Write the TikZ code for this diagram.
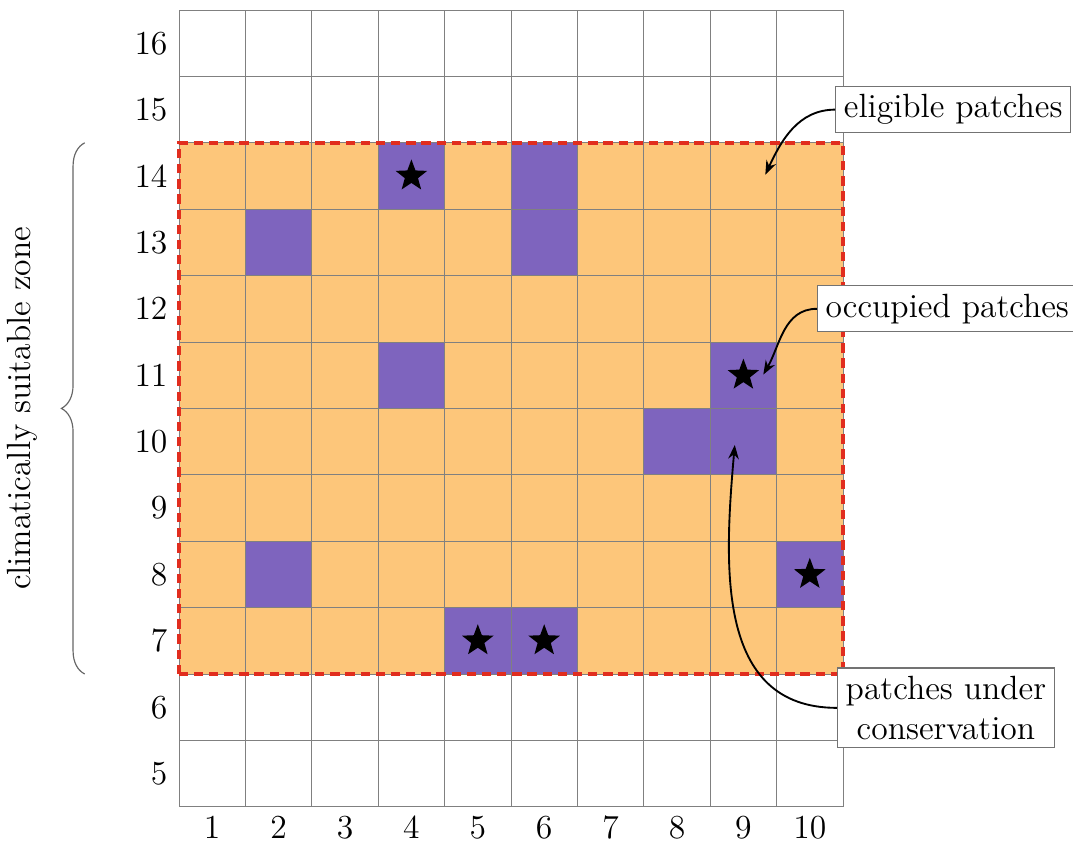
\documentclass[tikz,border=0pt]{standalone}
\usetikzlibrary{shapes.geometric,arrows.meta,decorations.pathreplacing}
\definecolor{orangefill}{RGB}{253,198,122}
\definecolor{purplefill}{RGB}{126,100,190}
\definecolor{purpleedge}{RGB}{70,40,200}
\definecolor{dashred}{RGB}{225,45,30}
\begin{document}
\begin{tikzpicture}[x=1cm,y=1cm,
  lbl/.style={font=\fontsize{14.4}{17}\selectfont},
  occ/.style={fill=purplefill,draw=purpleedge,line width=0.4pt},
  starmark/.style={star,star points=5,star point ratio=2.4,fill=black,minimum size=0.5cm,inner sep=0pt},
  callout/.style={draw=black!55,fill=white,line width=0.5pt,inner sep=3.5pt,font=\fontsize{14.4}{17}\selectfont},
  pointer/.style={-{Stealth[length=6pt,width=4.5pt]},line width=0.8pt,black}]
\useasboundingbox (-2.696,-0.527) rectangle (13.464,12.151);
% eligible zone
\fill[orangefill] (0,2) rectangle (10,10);
% occupied cells
\foreach \c/\r in {4/14,6/14,2/13,6/13,4/11,9/11,8/10,9/10,2/8,10/8,5/7,6/7}{
  \draw[occ] (\c-1,\r-5) rectangle (\c,\r-4);
}
% grid
\draw[black!50,line width=0.4pt] (0,0) grid (10,12);
% dashed border
\draw[dashred,line width=1.7pt,dash pattern=on 4pt off 2.5pt] (0,2) rectangle (10,10);
% stars
\foreach \c/\r/\n in {4/14/a,9/11/b,10/8/c,5/7/d,6/7/e}{
  \node[starmark] (s\n) at (\c-0.5,\r-4.5) {};
}
% row labels
\foreach \r in {5,...,16}{
  \node[lbl,anchor=east] (r\r) at (-0.05,\r-4.5) {\r};
}
% column labels
\foreach \c in {1,...,10}{
  \node[lbl,inner sep=0pt,anchor=base] (c\c) at (\c-0.5,-0.47) {\c};
}
% brace
\draw[decorate,decoration={brace,amplitude=10pt},black!60,line width=0.5pt] (-1.42,2) -- (-1.42,10);
\node[lbl,rotate=90] (zone) at (-2.36,6) {climatically suitable zone};
% callouts
\node[callout] (elig) at (11.66,10.5) {eligible patches};
\coordinate (eligtip) at (8.83,9.52);
\draw[pointer] (elig.west) to[out=180,in=65] (eligtip);
\node[callout] (occp) at (11.57,7.5) {occupied patches};
\coordinate (occtip) at (8.80,6.51);
\draw[pointer] (occp.west) to[out=180,in=60] (occtip);
\node[callout,align=center] (cons) at (11.55,1.49) {patches under\\conservation};
\coordinate (constip) at (8.37,5.45);
\draw[pointer] (cons.west) to[out=180,in=-95,looseness=1.1] (constip);
\end{tikzpicture}
\end{document}
